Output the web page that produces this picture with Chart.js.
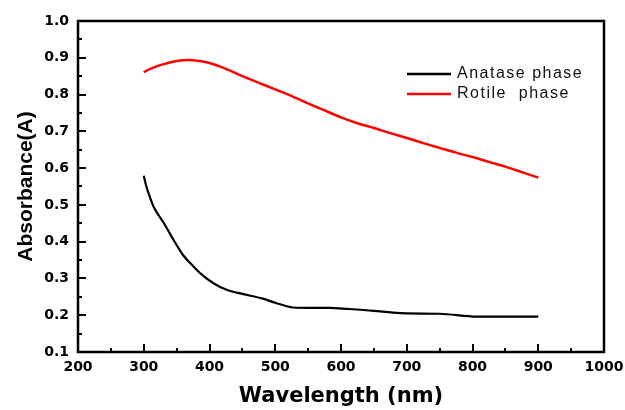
<!DOCTYPE html>
<html>
<head>
<meta charset="utf-8">
<script src="https://cdn.jsdelivr.net/npm/chart.js@4/dist/chart.umd.min.js"></script>
<style>
  html, body { margin: 0; padding: 0; background: #fff; }
</style>
</head>
<body>
<canvas id="uvchart" width="625" height="410"></canvas>
<script>
// data //
const anataseWl = [300, 304, 310, 315, 330, 345, 360, 376, 388, 406, 426, 450, 481, 500, 527, 550, 583, 611, 650, 679, 700, 750, 807, 850, 900];
const anataseAbs = [0.579, 0.550, 0.518, 0.495, 0.452, 0.406, 0.363, 0.332, 0.311, 0.287, 0.269, 0.258, 0.245, 0.234, 0.221, 0.220, 0.220, 0.217, 0.212, 0.207, 0.205, 0.204, 0.196, 0.196, 0.196];

const rutileWl = [300, 310, 325, 350, 367, 385, 400, 425, 450, 475, 500, 525, 550, 575, 600, 625, 650, 675, 700, 725, 750, 775, 800, 825, 850, 875, 900];
const rutileAbs = [0.861, 0.870, 0.880, 0.891, 0.894, 0.891, 0.886, 0.870, 0.850, 0.832, 0.814, 0.796, 0.776, 0.757, 0.738, 0.722, 0.709, 0.695, 0.682, 0.668, 0.655, 0.642, 0.630, 0.617, 0.604, 0.589, 0.574];

const seriesLabels = ['Anatase phase', 'Rotile  phase'];
const xTicks = [200, 300, 400, 500, 600, 700, 800, 900, 1000];
const yTicks = [0.1, 0.2, 0.3, 0.4, 0.5, 0.6, 0.7, 0.8, 0.9, 1.0];

function toPoints(xs, ys) {
    return xs.map((x, i) => ({ x: x, y: ys[i] }));
}

// inward ticks (major + minor) and the box frame
const frameTicks = {
    id: 'frameTicks',
    afterDraw(chart) {
        const c = chart.ctx;
        const area = chart.chartArea;
        const xs = chart.scales.x;
        const ys = chart.scales.y;
        c.save();
        c.strokeStyle = '#000';
        c.lineWidth = 2;
        for (let v = 200; v <= 1000; v += 50) {
            const px = Math.round(xs.getPixelForValue(v));
            const len = (v % 100 === 0) ? 8 : 4;
            c.beginPath();
            c.moveTo(px, area.bottom);
            c.lineTo(px, area.bottom - len);
            c.stroke();
        }
        for (let i = 2; i <= 20; i++) {
            const v = i * 0.05;
            const py = Math.round(ys.getPixelForValue(v));
            const len = (i % 2 === 0) ? 8 : 4;
            c.beginPath();
            c.moveTo(area.left, py);
            c.lineTo(area.left + len, py);
            c.stroke();
        }
        c.lineWidth = 2.5;
        c.strokeRect(area.left, area.top, area.right - area.left, area.bottom - area.top);
        c.restore();
    }
};

// legend drawn inside the plot, upper right
const insideLegend = {
    id: 'insideLegend',
    afterDraw(chart) {
        const c = chart.ctx;
        c.save();
        c.font = '16px "Liberation Sans", Arial, sans-serif';
        c.textBaseline = 'middle';
        chart.data.datasets.forEach((ds, i) => {
            const y = 74 + i * 20;
            c.strokeStyle = ds.borderColor;
            c.lineWidth = 2.5;
            c.beginPath();
            c.moveTo(407, y);
            c.lineTo(451, y);
            c.stroke();
            c.fillStyle = '#111';
            c.letterSpacing = '1.5px';
            c.fillText(ds.label, 457, y);
        });
        c.restore();
    }
};

const tickFont = { family: '"DejaVu Sans"', size: 14, weight: 'bold' };

const ctx = document.getElementById('uvchart').getContext('2d');
const uvchart = new Chart(ctx, {
    type: 'line',
    data: {
        datasets: [{
            label: seriesLabels[0],
            data: toPoints(anataseWl, anataseAbs),
            borderColor: '#000000',
            borderWidth: 2.2,
            pointRadius: 0,
            cubicInterpolationMode: 'monotone'
        }, {
            label: seriesLabels[1],
            data: toPoints(rutileWl, rutileAbs),
            borderColor: '#ff0000',
            borderWidth: 2.5,
            pointRadius: 0,
            cubicInterpolationMode: 'monotone'
        }]
    },
    options: {
        responsive: false,
        animation: false,
        devicePixelRatio: 1,
        layout: { padding: { top: 21, right: 21, left: 0, bottom: 0 } },
        plugins: {
            legend: { display: false },
            tooltip: { enabled: false }
        },
        scales: {
            x: {
                type: 'linear',
                min: 200,
                max: 1000,
                afterBuildTicks: (s) => { s.ticks = xTicks.map(v => ({ value: v })); },
                afterFit: (s) => { s.height = 58; s.paddingLeft = 0; s.paddingRight = 0; },
                grid: { display: false, drawTicks: false },
                border: { display: false },
                ticks: {
                    color: '#000',
                    padding: 7,
                    maxRotation: 0,
                    callback: (v) => String(v),
                    font: tickFont
                },
                title: {
                    display: true,
                    text: 'Wavelength (nm)',
                    color: '#000',
                    padding: { top: 0, bottom: 1 },
                    font: { family: '"DejaVu Sans"', size: 21, weight: 'bold' }
                }
            },
            y: {
                min: 0.1,
                max: 1.0,
                afterBuildTicks: (s) => { s.ticks = yTicks.map(v => ({ value: v })); },
                afterFit: (s) => { s.width = 78; s.paddingTop = 0; s.paddingBottom = 0; },
                grid: { display: false, drawTicks: false },
                border: { display: false },
                ticks: {
                    color: '#000',
                    padding: 9,
                    callback: (v) => Number(v).toFixed(1),
                    font: tickFont
                },
                title: {
                    display: true,
                    text: 'Absorbance(A)',
                    color: '#000',
                    padding: { top: 14, bottom: 0 },
                    font: { family: '"Liberation Sans", Arial', size: 21, weight: 'bold' }
                }
            }
        }
    },
    plugins: [frameTicks, insideLegend]
});
</script>
</body>
</html>
